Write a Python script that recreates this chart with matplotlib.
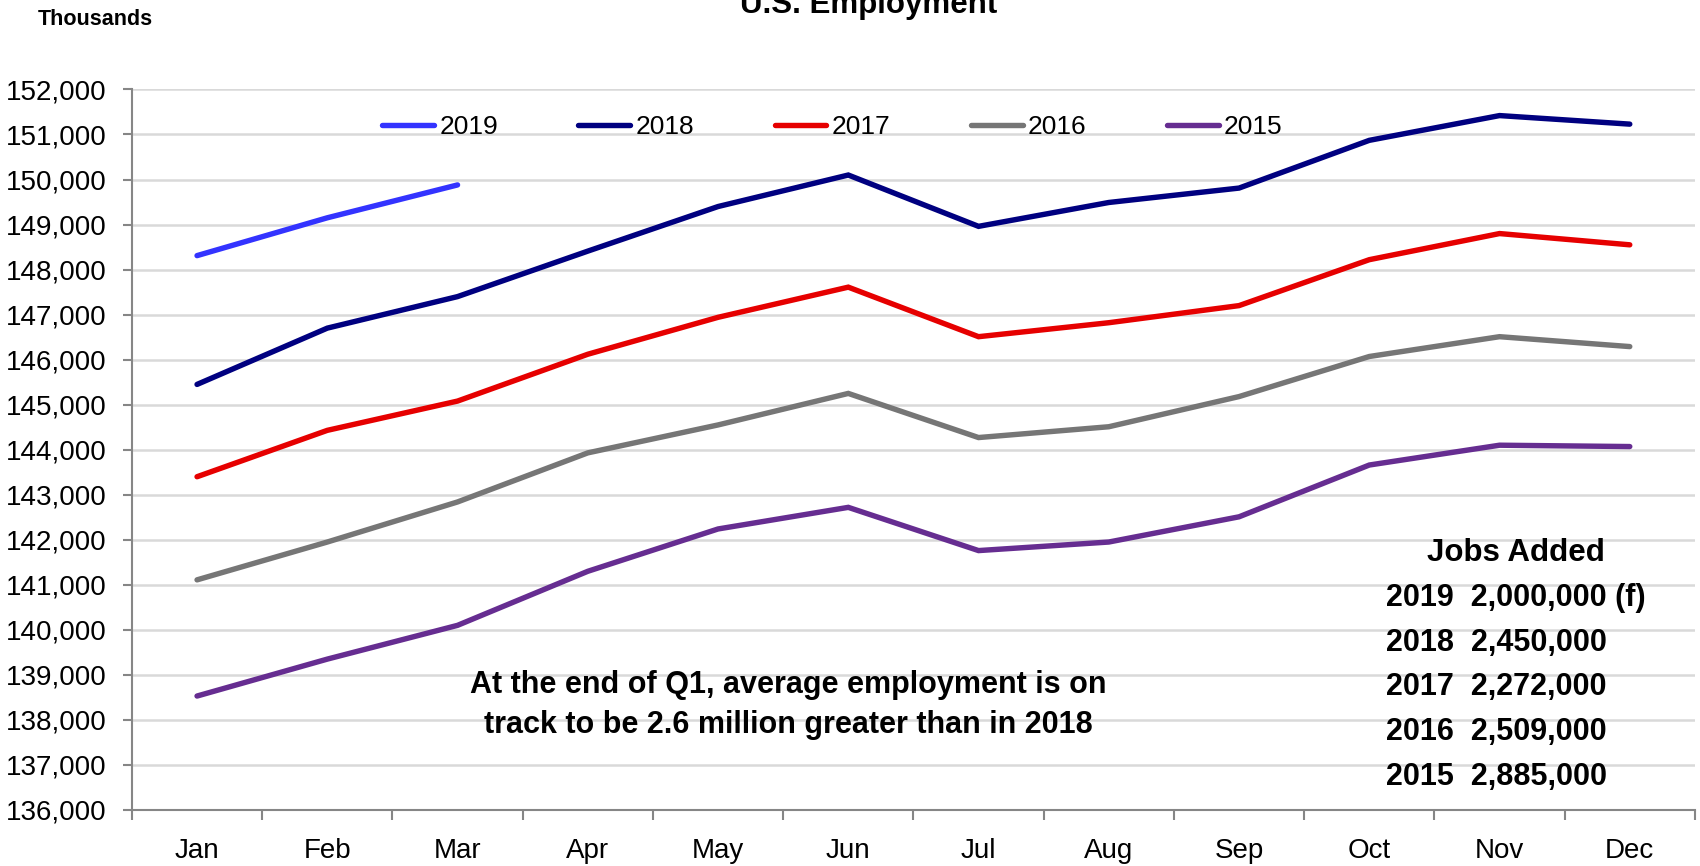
import matplotlib
matplotlib.use('Agg')
import matplotlib.pyplot as plt
import numpy as np

months = ['Jan', 'Feb', 'Mar', 'Apr', 'May', 'Jun', 'Jul', 'Aug', 'Sep', 'Oct', 'Nov', 'Dec']

emp_2019 = [148310, 149150, 149880]
emp_2018 = [145450, 146700, 147400, 148410, 149400, 150100, 148960, 149490, 149810, 150870, 151420, 151230]
emp_2017 = [143400, 144430, 145080, 146120, 146940, 147610, 146510, 146820, 147200, 148220, 148800, 148550]
emp_2016 = [141110, 141950, 142840, 143930, 144550, 145250, 144270, 144510, 145180, 146070, 146510, 146290]
emp_2015 = [138530, 139350, 140100, 141300, 142240, 142720, 141760, 141950, 142510, 143660, 144100, 144070]

years = ['2019', '2018', '2017', '2016', '2015']
colors = ['#3333FF', '#000080', '#E60000', '#767676', '#662D91']

jobs_added = ['2,000,000 (f)', '2,450,000', '2,272,000', '2,509,000', '2,885,000']

plt.rcParams['font.family'] = ['Liberation Sans', 'DejaVu Sans']

fig = plt.figure(figsize=(17, 8.66), dpi=100)
ax = fig.add_axes([0.0776, 0.0647, 0.9194, 0.8320])

series = [emp_2019, emp_2018, emp_2017, emp_2016, emp_2015]
for yr, vals, c in zip(years, series, colors):
    ax.plot(np.arange(len(vals)), vals, color=c, lw=3.9, label=yr,
            solid_capstyle='round', solid_joinstyle='miter')

ax.set_xlim(-0.5, 11.5)
ax.set_ylim(136000, 152000)
ax.set_yticks(np.arange(136000, 152001, 1000))
ax.set_yticklabels([f'{v:,}' for v in range(136000, 152001, 1000)])
ax.set_xticks(np.arange(12))
ax.set_xticklabels(months)
ax.set_xticks(np.arange(-0.5, 12, 1), minor=True)

ax.grid(axis='y', color='#D9D9D9', lw=1.8)
ax.set_axisbelow(True)
for s in ['top', 'right']:
    ax.spines[s].set_visible(False)
for s in ['left', 'bottom']:
    ax.spines[s].set_color('#868686')
    ax.spines[s].set_linewidth(1.5)

ax.tick_params(axis='y', labelsize=20, length=6.5, width=1.5, color='#868686', pad=12)
ax.tick_params(axis='x', which='major', labelsize=20, length=0, pad=20)
ax.tick_params(axis='x', which='minor', length=7, width=1.5, color='#868686')

ax.legend(loc='center', bbox_to_anchor=(0.4896, 0.853), bbox_transform=fig.transFigure,
          ncol=5, frameon=False, fontsize=19, handlelength=1.97, handletextpad=0.19,
          columnspacing=3.05)

fig.text(0.511, 0.985, 'U.S. Employment', ha='center', va='baseline',
         fontsize=22.5, fontweight='bold')
fig.text(0.022, 0.978, 'Thousands', ha='left', va='center', fontsize=15.5, fontweight='bold')

fig.text(0.4635, 0.186, 'At the end of Q1, average employment is on\ntrack to be 2.6 million greater than in 2018',
         ha='center', va='center', fontsize=22, fontweight='bold', linespacing=1.45)

fig.text(0.892, 1 - 553 / 866, 'Jobs Added', ha='center', va='center',
         fontsize=22.5, fontweight='bold')
for i, (yr, j) in enumerate(zip(years, jobs_added)):
    fig.text(1386 / 1700, 1 - (598 + i * 44.7) / 866, f'{yr}  {j}', ha='left', va='center',
             fontsize=22, fontweight='bold')

fig.savefig('out.png', dpi=100)
